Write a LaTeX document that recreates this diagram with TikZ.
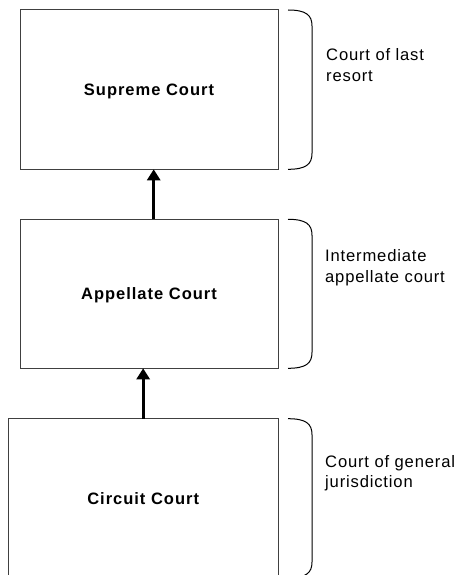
\documentclass[tikz,border=0pt]{standalone}
\usepackage{fontspec}
\setmainfont{Liberation Sans}
\newfontfamily\labfont[LetterSpace=5]{Liberation Sans}
\newfontfamily\courtfont[LetterSpace=6]{Liberation Sans}
\usetikzlibrary{arrows.meta}
\begin{document}
\begin{tikzpicture}[x=1pt,y=-1pt,
  court/.style={draw=black!75, line width=1pt, inner sep=0pt, outer sep=0pt,
    font={\courtfont\bfseries\fontsize{16.5}{20}\selectfont}, text depth=0pt},
  lab/.style={anchor=base west, inner sep=0pt, font={\labfont\fontsize{16.6}{20.5}\selectfont}},
  up/.style={line width=3pt, -{Triangle[length=11pt,width=13pt]}},
  brk/.style={line width=1pt}
]
\useasboundingbox (0,0) rectangle (460,575);
\clip (0,0) rectangle (460,575);
\fill[white] (0,0) rectangle (460,575);

\node[court, minimum width=258pt, minimum height=159.3pt] (sup) at (149,89.65) {Supreme Court};
\node[court, minimum width=258pt, minimum height=149pt] (app) at (149,293.8) {Appellate Court};
\node[court, minimum width=269.7pt, minimum height=159.3pt] (cir) at (143.15,498.35) {Circuit Court};

\draw[up] ([xshift=4.7pt]app.north) -- ([xshift=4.7pt]sup.south);
\draw[up] (cir.north) -- (cir.north |- app.south);

\foreach \n in {sup,app,cir} {
  \draw[brk] ([xshift=10pt]\n.north east) .. controls +(18,0) and +(0,-11) ..
    ([xshift=34pt,yshift=-16pt]\n.north east) -- ([xshift=34pt,yshift=16pt]\n.south east)
    .. controls +(0,11) and +(18,0) .. ([xshift=10pt]\n.south east);
}

\node[lab] (l1) at (326,60.7) {\vtop{\hbox{Court of last}\hbox{resort}}};
\node[lab] (l2) at (325,261.5) {\vtop{\hbox{Intermediate}\hbox{appellate court}}};
\node[lab] (l3) at (325,467.3) {\vtop{\hbox{Court of general}\hbox{jurisdiction}}};
\end{tikzpicture}
\end{document}
